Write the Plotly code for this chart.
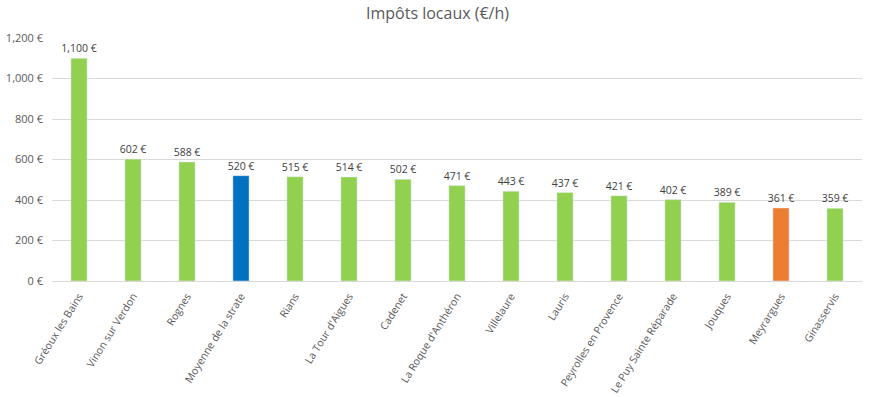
import plotly.graph_objects as go

communes = ["Gréoux les Bains", "Vinon sur Verdon", "Rognes", "Moyenne de la strate", "Rians",
            "La Tour d'Aigues", "Cadenet", "La Roque d'Anthéron", "Villelaure", "Lauris",
            "Peyrolles en Provence", "Le Puy Sainte Réparade", "Jouques", "Meyrargues", "Ginasservis"]
impots = [1100, 602, 588, 520, 515, 514, 502, 471, 443, 437, 421, 402, 389, 361, 359]

GREEN, BLUE, ORANGE = "#92D050", "#0070C0", "#ED7D31"
colors = [BLUE if c == "Moyenne de la strate" else ORANGE if c == "Meyrargues" else GREEN for c in communes]

font = "Open Sans, Liberation Sans, sans-serif"
fig = go.Figure(go.Bar(
    x=communes, y=impots, marker_color=colors,
    texttemplate="%{y:,} €", textposition="outside", cliponaxis=False,
    constraintext="none",
    textfont=dict(size=10.5, color="#404040", family=font),
))
fig.update_layout(
    width=875, height=397,
    margin=dict(l=52, r=13, t=38, b=116),
    paper_bgcolor="white", plot_bgcolor="white",
    bargap=0.7,
    showlegend=False,
    title=dict(text="Impôts locaux (€/h)", x=0.5, xanchor="center", y=0.965, yanchor="middle",
               font=dict(size=16, color="#595959", family=font)),
    font=dict(family=font, color="#595959", size=10),
)
fig.update_xaxes(tickangle=-58, showline=True, linecolor="#D9D9D9", linewidth=1,
                 ticks="", automargin=False, ticklabelstandoff=4,
                 tickfont=dict(size=10.5, color="#595959"))
fig.update_yaxes(range=[0, 1200], dtick=200, tickformat=",", ticksuffix=" €",
                 gridcolor="#D9D9D9", gridwidth=1, zeroline=False, showline=False,
                 automargin=False, ticklabelstandoff=8,
                 tickfont=dict(size=11, color="#595959"))
fig.write_html("out.html", config={"displayModeBar": False},
               post_script="document.body.style.margin='0';")
